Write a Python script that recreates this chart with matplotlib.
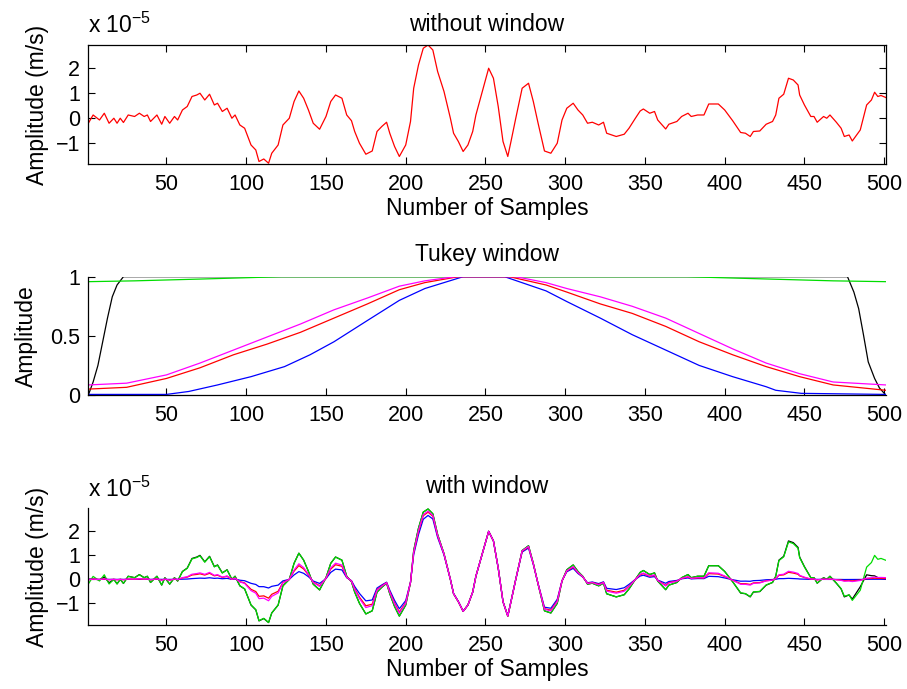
import numpy as np
import matplotlib
matplotlib.use('Agg')
import matplotlib.pyplot as plt

plt.rcParams['font.family'] = 'Liberation Sans'
plt.rcParams['mathtext.default'] = 'regular'

# signal (units of 1e-5 m/s)
x_sig = [1, 4, 8, 11, 14, 17, 19, 21, 23, 26, 30, 33, 36, 38, 40, 44, 47, 49, 52, 55,
         57, 60, 63, 66, 69, 71, 74, 77, 80, 82, 85, 88, 91, 93, 96, 99, 103, 106, 108, 111,
         114, 116, 120, 123, 127, 130, 133, 136, 139, 142, 146, 150, 153, 156, 160, 163, 166, 168, 171, 175,
         179, 182, 185, 188, 190, 193, 196, 200, 203, 205, 208, 211, 214, 217, 220, 224, 228, 230, 233, 236,
         239, 242, 244, 248, 252, 255, 258, 261, 264, 266, 269, 273, 277, 280, 283, 287, 291, 295, 298, 301,
         305, 308, 311, 314, 317, 321, 324, 326, 332, 337, 340, 344, 347, 349, 353, 356, 358, 363, 365, 370,
         373, 377, 379, 383, 387, 390, 396, 400, 405, 410, 413, 416, 418, 422, 426, 430, 432, 434, 437, 440,
         443, 446, 447, 450, 454, 456, 458, 462, 464, 466, 470, 473, 475, 478, 480, 485, 489, 492, 494, 496,
         498, 501]
sig = [-0.2, 0.13, -0.07, 0.2, -0.2, 0.0, -0.2, 0.0, -0.17, 0.13, 0.07, 0.2, 0.07, 0.13, -0.13, 0.13, -0.24, 0.07, -0.2, 0.07,
       -0.07, 0.33, 0.47, 0.87, 0.93, 1.0, 0.73, 0.96, 0.53, 0.6, 0.27, 0.4, 0.0, 0.13, -0.27, -0.4, -1.07, -1.27, -1.73, -1.63,
       -1.8, -1.4, -1.07, -0.27, 0.0, 0.67, 1.09, 0.8, 0.33, -0.2, -0.44, 0.07, 0.67, 0.93, 0.8, 0.13, -0.1, -0.53, -1.0, -1.44,
       -1.31, -0.53, -0.33, -0.16, -0.6, -1.13, -1.53, -1.07, -0.13, 1.2, 2.13, 2.8, 2.93, 2.73, 1.87, 1.07, 0.0, -0.6, -0.93, -1.33,
       -1.07, -0.53, 0.13, 1.07, 2.0, 1.6, 0.47, -0.93, -1.53, -0.93, 0.0, 1.2, 1.4, 0.67, -0.2, -1.31, -1.4, -1.0, -0.07, 0.4,
       0.6, 0.33, 0.13, -0.2, -0.16, -0.27, -0.16, -0.6, -0.73, -0.64, -0.4, 0.0, 0.29, 0.37, 0.2, 0.27, -0.07, -0.43, -0.24, -0.13,
       0.07, 0.2, 0.07, 0.13, 0.13, 0.57, 0.57, 0.33, -0.1, -0.57, -0.6, -0.73, -0.53, -0.51, -0.24, -0.13, 0.13, 0.8, 0.96, 1.6,
       1.53, 1.33, 0.93, 0.53, 0.07, 0.07, -0.16, 0.07, 0.0, 0.13, -0.16, -0.4, -0.73, -0.67, -0.91, -0.47, 0.53, 0.73, 1.04, 0.87,
       0.91, 0.83]

# Tukey windows
x_black = [1, 4, 7, 10, 13, 16, 19, 23, 477, 481, 484, 487, 490, 494, 497, 501]
win_black = [0.0, 0.11, 0.25, 0.45, 0.65, 0.83, 0.93, 1.0, 1.0, 0.87, 0.73, 0.51, 0.28, 0.14, 0.06, 0.0]
x_green = [1, 30, 71, 122, 376, 428, 468, 501]
win_green = [0.958, 0.965, 0.98, 1.0, 1.0, 0.98, 0.965, 0.958]
x_blue = [1, 50, 64, 82, 103, 124, 140, 155, 176, 196, 212, 236, 262, 288, 301, 322, 342, 363, 384, 405, 426, 432, 448, 501]
win_blue = [0.005, 0.005, 0.03, 0.085, 0.155, 0.24, 0.34, 0.45, 0.63, 0.80, 0.90, 1.0, 1.0, 0.88, 0.79, 0.65, 0.51, 0.38, 0.25, 0.155, 0.07, 0.04, 0.014, 0.005]
x_red = [1, 25, 50, 71, 92, 113, 134, 155, 176, 196, 212, 233, 265, 288, 301, 322, 342, 363, 384, 405, 426, 447, 468, 501]
win_red = [0.05, 0.065, 0.14, 0.23, 0.34, 0.43, 0.53, 0.65, 0.77, 0.89, 0.95, 1.0, 1.0, 0.93, 0.87, 0.77, 0.69, 0.58, 0.45, 0.34, 0.24, 0.155, 0.085, 0.04]
x_mag = [1, 25, 50, 71, 92, 113, 134, 155, 176, 196, 212, 231, 269, 288, 301, 322, 342, 363, 384, 405, 426, 447, 468, 501]
win_mag = [0.085, 0.10, 0.17, 0.27, 0.38, 0.49, 0.60, 0.72, 0.82, 0.92, 0.965, 1.0, 1.0, 0.95, 0.90, 0.83, 0.75, 0.65, 0.52, 0.39, 0.27, 0.18, 0.11, 0.085]

GREEN = '#00dd00'
windows = [(x_black, win_black, 'k'), (x_green, win_green, GREEN),
           (x_blue, win_blue, '#0000ff'), (x_red, win_red, '#ff0000'), (x_mag, win_mag, '#ff00ff')]

fs_lab = 16.5
fs_tick = 15.5
lw = 0.9

fig = plt.figure(figsize=(9.07, 6.89), dpi=100)
ax1 = fig.add_axes([0.0974, 0.762, 0.8792, 0.1727])
ax2 = fig.add_axes([0.0974, 0.4267, 0.8792, 0.1717])
ax3 = fig.add_axes([0.0974, 0.0929, 0.8792, 0.1694])

ax1.plot(x_sig, sig, color='#ff0000', lw=lw)
for xw, w, c in windows:
    ax2.plot(xw, w, color=c, lw=lw)
    # windowed signal = signal times window
    ax3.plot(x_sig, np.array(sig) * np.interp(x_sig, xw, w), color=c, lw=lw)

ax1.set_ylim(-1.83, 2.93)
ax2.set_ylim(0, 1)
ax3.set_ylim(-1.9, 2.96)
ax2.set_yticks([0, 0.5, 1])
ax2.set_yticklabels(['0', '0.5', '1'])

for ax in (ax1, ax2, ax3):
    ax.set_xlim(1, 501)
    ax.set_xticks(range(50, 501, 50))
    ax.tick_params(direction='in', length=5, width=0.8, labelsize=fs_tick)
    ax.tick_params(axis='x', pad=7)
    ax.tick_params(axis='y', pad=6)
    for s in ax.spines.values():
        s.set_linewidth(0.9)
for ax in (ax1, ax3):
    ax.set_yticks([-1, 0, 1, 2])
    ax.set_ylabel('Amplitude (m/s)', fontsize=fs_lab, labelpad=5)
    ax.set_xlabel('Number of Samples', fontsize=fs_lab, labelpad=2)
    ax.annotate('x 10$^{-5}$', xy=(0, 1), xycoords='axes fraction', xytext=(0, 8.5),
                textcoords='offset points', ha='left', va='baseline', fontsize=fs_lab)
ax2.set_ylabel('Amplitude', fontsize=fs_lab, labelpad=9)

ax1.tick_params(top=True, right=True)
for ax in (ax2, ax3):
    ax.spines['top'].set_visible(False)
    ax.spines['right'].set_visible(False)

ax1.set_title('without window', fontsize=fs_lab, pad=10)
ax2.set_title('Tukey window', fontsize=fs_lab, pad=11)
ax3.set_title('with window', fontsize=fs_lab, pad=11)

plt.savefig('out.png', dpi=100)
